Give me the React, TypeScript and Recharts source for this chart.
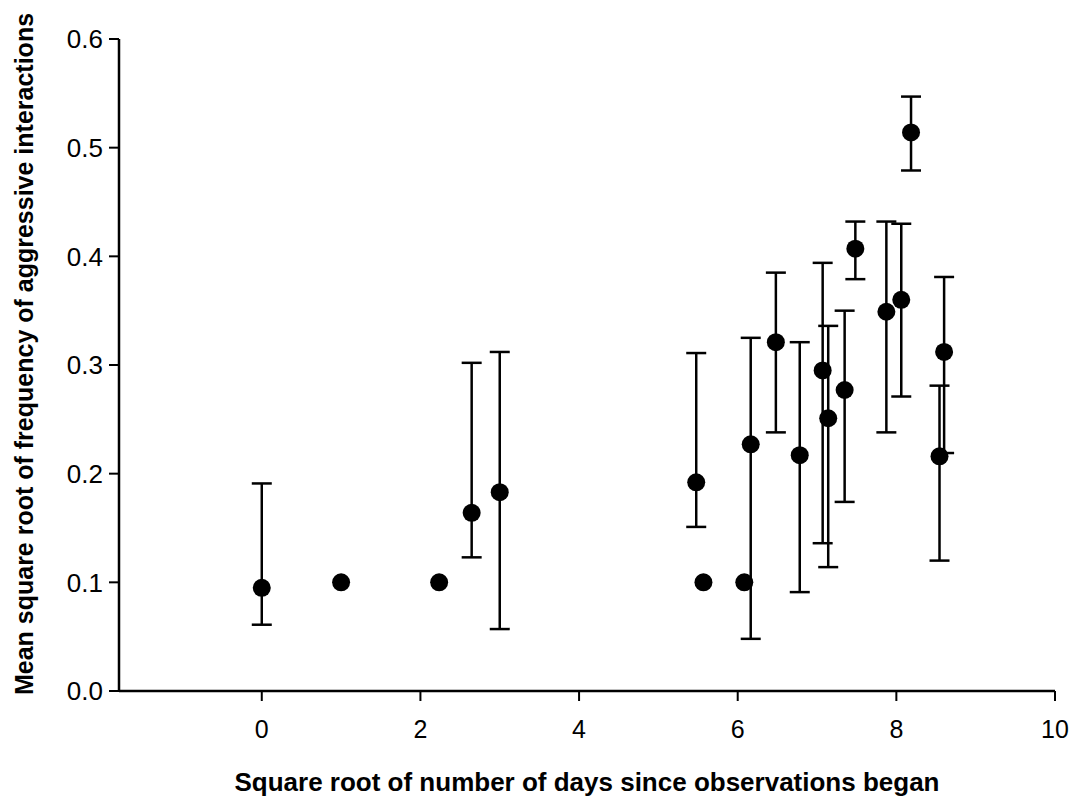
import React from "react"
import { ScatterChart, Scatter, XAxis, YAxis, ErrorBar } from "recharts"

// square root of days since observations began
const dayRoots = [
  0, 1.0, 2.236, 2.646, 3.0, 5.477, 5.568, 6.083, 6.164, 6.481,
  6.782, 7.071, 7.141, 7.348, 7.483, 7.874, 8.062, 8.185, 8.544, 8.602,
]
// mean sqrt frequency of aggressive interactions
const meanValues = [
  0.095, 0.1, 0.1, 0.164, 0.183, 0.192, 0.1, 0.1, 0.227, 0.321,
  0.217, 0.295, 0.251, 0.277, 0.407, 0.349, 0.36, 0.514, 0.216, 0.312,
]
// error bar ends (null = no bar drawn)
const lowerLimits = [
  0.061, null, null, 0.123, 0.057, 0.151, null, null, 0.048, 0.238,
  0.091, 0.136, 0.114, 0.174, 0.379, 0.238, 0.271, 0.479, 0.12, 0.219,
]
const upperLimits = [
  0.191, null, null, 0.302, 0.312, 0.311, null, null, 0.325, 0.385,
  0.321, 0.394, 0.336, 0.35, 0.432, 0.432, 0.43, 0.547, 0.281, 0.381,
]

const xTicks = [0, 2, 4, 6, 8, 10]
const yTicks = [0, 0.1, 0.2, 0.3, 0.4, 0.5, 0.6]

const data = dayRoots.map((x, i) => {
  const lo = lowerLimits[i]
  const hi = upperLimits[i]
  return {
    x,
    y: meanValues[i],
    err: lo == null || hi == null ? null : [meanValues[i] - lo, hi - meanValues[i]],
  }
})

const font = '"Liberation Sans", Arial, sans-serif'

const Dot = (props: any) => <circle cx={props.cx} cy={props.cy} r={9} fill="#000" />

export default function App() {
  return (
    <div style={{ position: "absolute", left: 0, top: 0, width: 1075, height: 798, background: "#fff" }}>
      <ScatterChart
        width={1075}
        height={798}
        margin={{ top: 39, right: 20, bottom: 0, left: 0 }}
        style={{ fontFamily: font }}
      >
        <XAxis
          type="number"
          dataKey="x"
          domain={[-1.8, 10]}
          ticks={xTicks}
          allowDataOverflow
          height={107}
          tickSize={10}
          tickMargin={19}
          axisLine={{ stroke: "#000", strokeWidth: 2.5 }}
          tickLine={{ stroke: "#000", strokeWidth: 2 }}
          tick={{ fill: "#000", fontSize: 25 }}
          label={{
            value: "Square root of number of days since observations began",
            position: "insideBottom",
            offset: 7,
            style: { fontSize: 26, fontWeight: "bold", fill: "#000" },
          }}
        />
        <YAxis
          type="number"
          dataKey="y"
          domain={[0, 0.6]}
          ticks={yTicks}
          width={119}
          tickSize={10}
          tickMargin={6}
          tickFormatter={(v: number) => v.toFixed(1)}
          axisLine={{ stroke: "#000", strokeWidth: 2.5 }}
          tickLine={{ stroke: "#000", strokeWidth: 2 }}
          tick={{ fill: "#000", fontSize: 26 }}
          label={{
            value: "Mean square root of frequency of aggressive interactions",
            angle: -90,
            position: "center",
            dx: -35,
            dy: -11,
            style: { fontSize: 25, fontWeight: "bold", fill: "#000", textAnchor: "middle" },
          }}
        />
        <Scatter data={data} shape={Dot} isAnimationActive={false}>
          <ErrorBar dataKey="err" direction="y" width={10} stroke="#000" strokeWidth={2.5} />
        </Scatter>
      </ScatterChart>
    </div>
  )
}
